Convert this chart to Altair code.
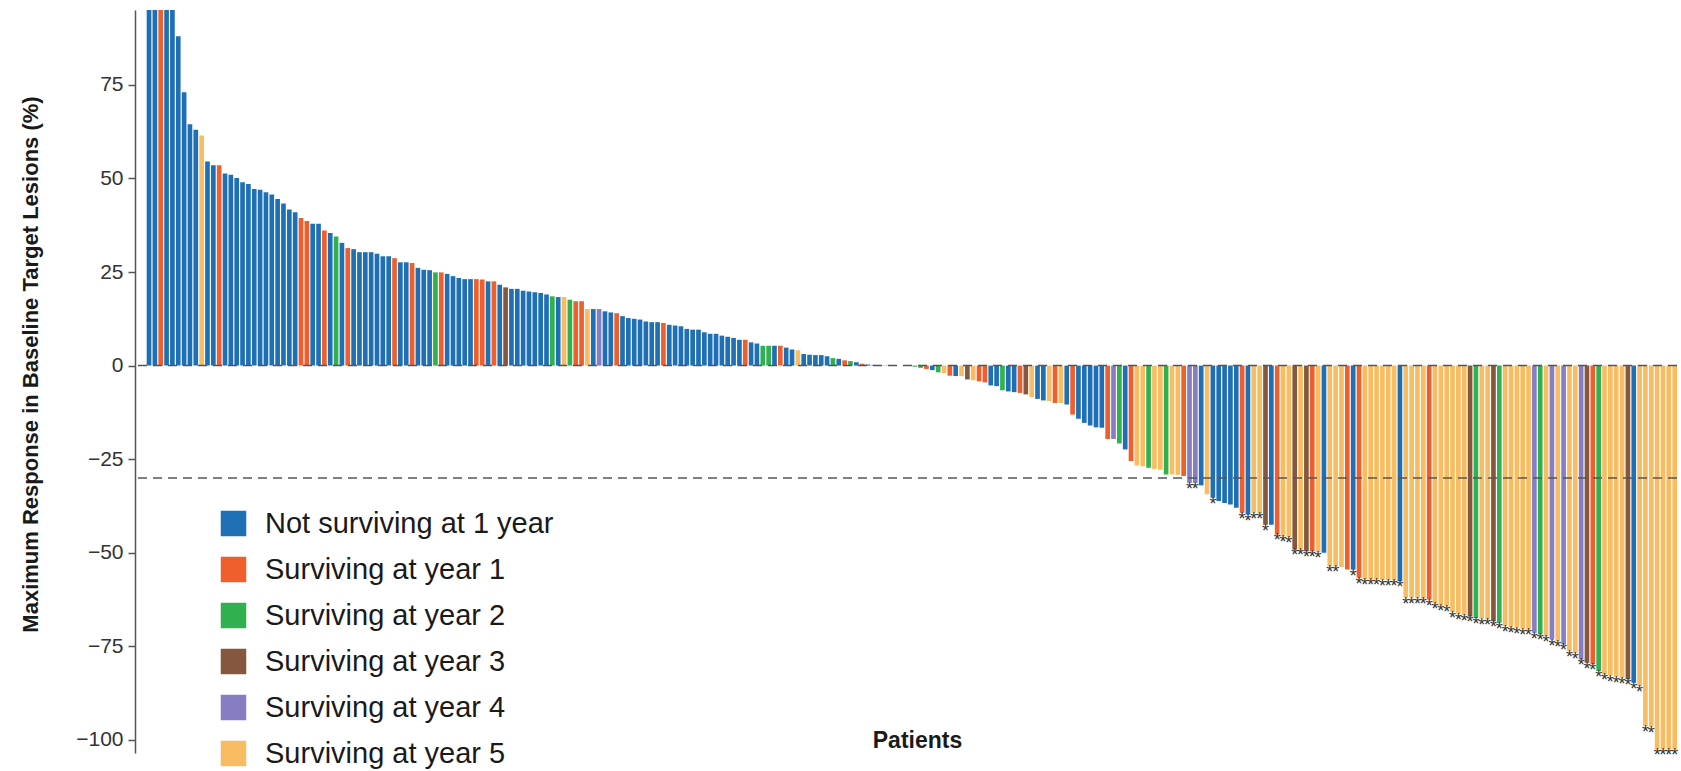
import altair as alt
import pandas as pd

# Maximum response (%) per patient, sorted as in the waterfall
VALUES = [
    120, 118, 115, 110, 100, 88, 73, 64.5, 63, 61.5, 54.5, 53.5, 53.5, 51.3, 51, 50.1, 49, 48.5, 47.2, 47.0,
    46.3, 45.7, 44.5, 43.3, 41.7, 41, 39.4, 38.6, 37.9, 37.9, 36.1, 35.4, 34.5, 32.8, 31.4, 31.1, 30.3,
    30.3, 30.3, 29.9, 29.2, 29.2, 28.7, 27.6, 27.6, 27.4, 26.1, 25.6, 25.5, 24.9, 24.9, 24.5,
    23.9, 23.4, 23.1, 23.1, 23.1, 23.0, 22.5, 22.5, 21.6, 20.9, 20.5, 20.5, 20.0, 19.8, 19.6,
    19.4, 19.0, 18.5, 18.3, 18.3, 17.6, 17.2, 17.2, 15.1,
    15.1, 15.1, 14.5, 14.2, 14.0, 13.2, 12.7, 12.5, 12.3, 11.8, 11.6, 11.6, 11.4, 10.9, 10.7,
    10.5, 9.8, 9.6, 9.6, 8.9, 8.5, 8.5, 8.0, 7.7, 7.4, 6.9, 6.9, 6.2, 5.9, 5.3, 5.3, 5.3, 5.3,
    4.8, 4.3, 4.1, 3.1, 2.9, 2.8, 2.8,
    2.5, 2.0, 1.8, 1.4, 1.2, 0.9, 0.5, 0.3, 0.2, 0.1, 0.1, 0, 0, 0, -0.1, -0.3, -0.6, -0.9,
    -1.2, -1.8, -2.0, -2.7, -2.8, -2.8, -3.7, -3.9, -4.2, -4.5, -5.3, -5.5, -6.6, -6.9,
    -7.1, -7.3, -7.7, -8.4,
    -8.9, -9.3, -9.5, -10.0, -10.0, -10.4, -13.1, -14.2, -15.3, -16.0, -16.5, -16.6,
    -19.6, -19.6, -20.8, -22.4, -25.5, -26.7, -26.9, -27.3, -27.6, -27.8, -29.1, -29.1, -29.2,
    -29.5, -31.3, -31.3, -32.0, -34.4, -35.3, -36.2, -36.7, -37.1, -38.0, -39.3, -39.8,
    -39.3, -39.5, -42.5, -42.5, -45.1, -45.6, -45.8, -49.1, -49.1, -49.6, -49.6, -49.8, -50.0,
    -53.6, -53.6, -53.8, -54.5, -54.5, -56.7, -57.0, -57.1, -57.1, -57.2, -57.3, -57.4, -57.6,
    -62.0, -62.0, -62.1, -62.2, -62.5, -63.5, -64.0, -64.3, -65.8, -66.3, -66.6,
    -67.0, -67.4, -67.6, -67.8, -68.3, -68.7, -69.6, -69.8, -70.0, -70.3, -70.5, -71.4, -71.8,
    -72.3, -73.2, -73.6, -74.5, -76.2, -76.7, -78.5, -79.4, -79.8, -81.6, -82.5, -82.8, -83.1,
    -83.4, -83.8, -84.7, -85.6, -96.3, -96.5, -102.5, -102.5, -102.5, -102.5,
]

# survival group of each patient (index into GROUP_LABELS)
GROUPS = [
    0, 0, 1, 0, 0, 0, 0, 0, 0, 5, 0, 0, 1, 0, 0, 0, 0, 0, 0, 0,
    0, 0, 0, 0, 0, 0, 1, 1, 0, 0, 1, 0, 2, 0, 1, 0, 0,
    0, 0, 0, 0, 0, 1, 0, 0, 1, 0, 0, 0, 2, 1, 0,
    0, 0, 0, 0, 1, 1, 0, 1, 0, 3, 0, 0, 0, 0, 0,
    0, 0, 2, 0, 5, 2, 1, 1, 5,
    0, 4, 0, 0, 1, 0, 0, 0, 0, 0, 0, 0, 1, 0, 0,
    0, 0, 0, 0, 0, 0, 0, 0, 0, 0, 0, 1, 0, 0, 2, 2, 0, 1,
    0, 0, 5, 0, 0, 0, 0,
    0, 2, 0, 1, 2, 0, 1, 0, 0, 0, 1, 0, 5, 1, 0, 2, 2, 1,
    0, 2, 5, 1, 0, 5, 3, 5, 1, 1, 0, 0, 2, 0,
    0, 1, 3, 5,
    0, 0, 5, 1, 5, 0, 1, 0, 0, 0, 0, 0,
    1, 4, 2, 0, 1, 5, 5, 2, 5, 5, 2, 5, 5,
    1, 4, 4, 0, 5, 0, 0, 0, 0, 0, 1, 0,
    5, 5, 3, 0, 1, 5, 5, 3, 5, 3, 1, 5, 0,
    5, 5, 5, 1, 0, 1, 5, 5, 5, 5, 5, 5, 0,
    5, 5, 5, 5, 1, 5, 5, 5, 5, 5, 5,
    3, 2, 5, 5, 3, 2, 5, 5, 5, 5, 5, 4, 2,
    5, 4, 5, 4, 5, 5, 4, 3, 1, 2, 5, 5, 5,
    5, 3, 0, 5, 5, 5, 5, 5, 5, 5,
]

# patients (0-based positions) marked with an asterisk
STARRED = [
    178, 179, 182, 187, 188, 189, 190, 191, 193, 194, 195, 196, 197, 198, 199, 200, 202, 203,
    206, 207, 208, 209, 210, 211, 212, 213, 214, 215, 216, 217, 218, 219, 220, 221, 222, 223,
    224, 225, 226, 227, 228, 229, 230, 231, 232, 233, 234, 235, 236, 237, 238, 239, 240, 241,
    242, 243, 244, 245, 246, 247, 248, 249, 250, 251, 252, 253, 254, 255, 256, 257, 258, 259,
    260, 261,
]

GROUP_LABELS = [
    "Not surviving at 1 year",
    "Surviving at year 1",
    "Surviving at year 2",
    "Surviving at year 3",
    "Surviving at year 4",
    "Surviving at year 5",
]
GROUP_COLORS = ["#1f6fb4", "#ef5f2e", "#31b04f", "#85573e", "#877dc2", "#f8bd62"]
REF_LINES = [0, -30]
Y_TICKS = [-100, -75, -50, -25, 0, 25, 50, 75]

FONT = "Liberation Sans"

df = pd.DataFrame({
    "patient": list(range(len(VALUES))),
    "value": VALUES,
    "group": [GROUP_LABELS[g] for g in GROUPS],
})
stars_df = df[df["patient"].isin(STARRED)]
ref_df = pd.DataFrame({"value": REF_LINES})

x_enc = alt.X(
    "patient:O",
    scale=alt.Scale(paddingInner=0.2, paddingOuter=1, align=1),
    axis=alt.Axis(
        labels=False, ticks=False, domain=False, title="Patients",
        titleFont=FONT, titleFontSize=23, titleFontWeight="bold", titleColor="#1a1a1a",
        titleX=782, titleY=-13, titleBaseline="middle", titleAlign="center",
    ),
)
y_enc = alt.Y(
    "value:Q",
    scale=alt.Scale(domain=[-103.5, 95], nice=False, zero=False),
    axis=alt.Axis(
        values=Y_TICKS, grid=False,
        title="Maximum Response in Baseline Target Lesions (%)",
        titleFont=FONT, titleFontSize=22, titleFontWeight="bold", titleColor="#1a1a1a",
        titleX=-105, titleY=354, titleBaseline="middle", titleAlign="center",
        labelFont=FONT, labelFontSize=21, labelColor="#333333", labelPadding=5,
        tickSize=7, tickColor="#555555", tickWidth=1.5,
        domainColor="#555555", domainWidth=1.5,
    ),
)

bars = alt.Chart(df).mark_bar(clip=True).encode(
    x=x_enc,
    y=y_enc,
    color=alt.Color(
        "group:N",
        scale=alt.Scale(domain=GROUP_LABELS, range=GROUP_COLORS),
        legend=alt.Legend(
            title=None, orient="none", legendX=84, legendY=499, padding=0,
            labelFont=FONT, labelFontSize=29, labelColor="#1a1a1a", labelLimit=600,
            labelOffset=17, symbolType="square", symbolSize=650, symbolStrokeWidth=0,
            rowPadding=16,
        ),
    ),
)

rules = alt.Chart(ref_df).mark_rule(
    strokeDash=[9, 6], color="#555555", strokeWidth=1.5
).encode(y=y_enc)

stars = alt.Chart(stars_df).mark_text(
    text="*", font=FONT, fontSize=18, color="#333333",
    baseline="top", dy=-2,
).encode(x=x_enc, y=y_enc)

chart = alt.layer(bars, rules, stars).properties(
    width=1542, height=743,
    autosize=alt.AutoSizeParams(type="none"),
    padding={"left": 135, "top": 10, "right": 4, "bottom": 18},
).configure_view(stroke=None)

chart.save("out.html", embed_options={"renderer": "svg", "actions": False})
